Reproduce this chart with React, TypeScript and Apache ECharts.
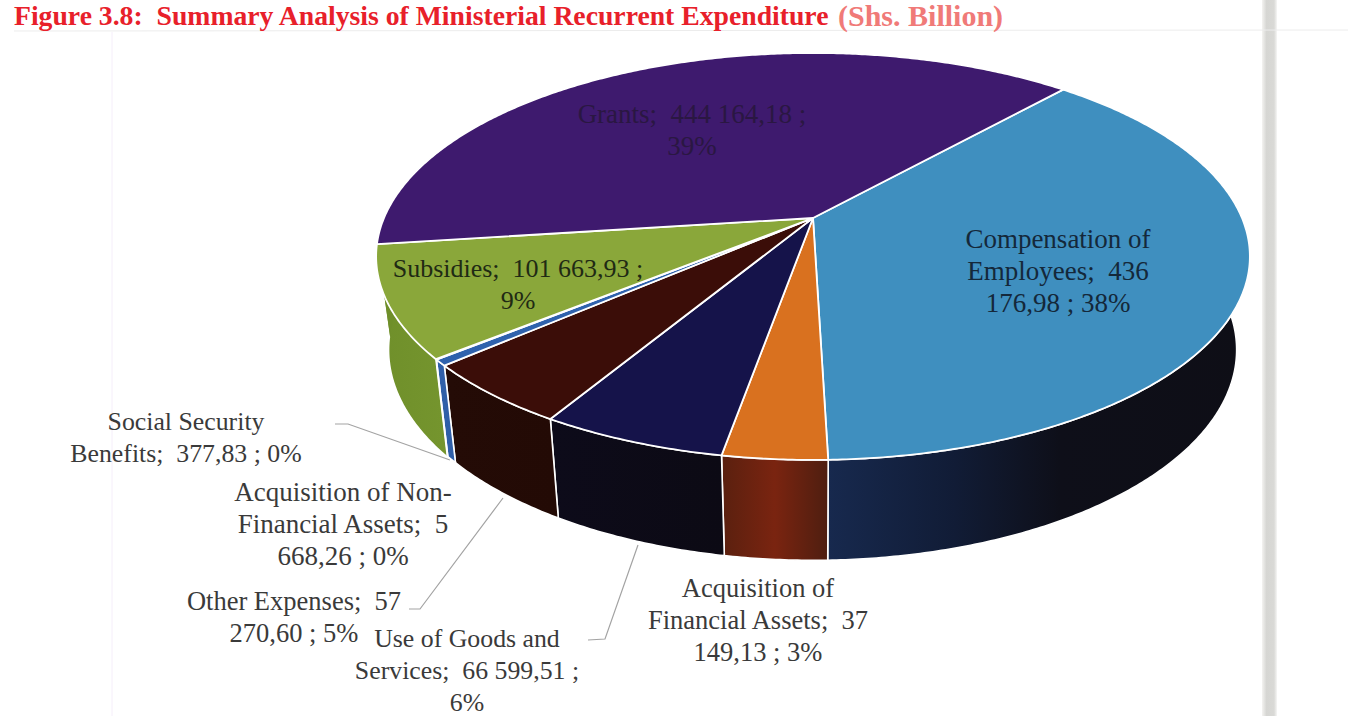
import React, { useEffect, useRef } from "react";
import * as echarts from "echarts";

const categories = [
  "Compensation of Employees",
  "Acquisition of Financial Assets",
  "Use of Goods and Services",
  "Other Expenses",
  "Acquisition of Non-Financial Assets",
  "Social Security Benefits",
  "Subsidies",
  "Grants",
];
const values = [436176.98, 37149.13, 66599.51, 57270.6, 5668.26, 377.83, 101663.93, 444164.18];
const labelTexts = [
  ["Compensation of", "Employees;  436", "176,98 ; 38%"],
  ["Acquisition of", "Financial Assets;  37", "149,13 ; 3%"],
  ["Use of Goods and", "Services;  66 599,51 ;", "6%"],
  ["Other Expenses;  57", "270,60 ; 5%"],
  ["Acquisition of Non-", "Financial Assets;  5", "668,26 ; 0%"],
  ["Social Security", "Benefits;  377,83 ; 0%"],
  ["Subsidies;  101 663,93 ;", "9%"],
  ["Grants;  444 164,18 ;", "39%"],
];
const titleMain = "Figure 3.8:  Summary Analysis of Ministerial Recurrent Expenditure";
const titleUnit = "(Shs. Billion)";

const topColors = ["#3f8fbf", "#d9711f", "#15134a", "#3b0d08", "#2f62ad", "#e6e08a", "#8aa73a", "#3e1a6e"];
const wallStops: [number, string][][] = [
  [[0, "#17294e"], [0.3, "#111c36"], [0.55, "#0e0f19"], [1, "#0e0e16"]],
  [[0, "#5a200f"], [0.5, "#7a2410"], [1, "#4e1e10"]],
  [[0, "#0d0b1a"], [1, "#0c0a14"]],
  [[0, "#240b06"], [1, "#230a05"]],
  [[0, "#2f5fa8"], [1, "#2f5fa8"]],
  [[0, "#e6e08a"], [1, "#e6e08a"]],
  [[0, "#6f8f2a"], [1, "#75952e"]],
  [[0, "#6f8f2a"], [1, "#6f8f2a"]],
];
const wallStrokes = ["#ffffff", "#ffffff", "#ffffff", "#ffffff", "#ffffff", "#ffffff", "none", "none"];

const labelLayout = [
  { x: 1058, y: 239, size: 27, fill: "#14283a" },
  { x: 758, y: 588, size: 26.5, fill: "#3a3a3a" },
  { x: 467, y: 638, size: 25.8, fill: "#3a3a3a" },
  { x: 294, y: 601, size: 26.5, fill: "#3a3a3a" },
  { x: 343, y: 492, size: 27, fill: "#3a3a3a" },
  { x: 186, y: 421, size: 25.8, fill: "#3a3a3a" },
  { x: 518, y: 268, size: 26, fill: "#1f2a14" },
  { x: 692, y: 114, size: 27, fill: "#2a1742" },
];
const leaders: number[][][] = [
  [[335, 424], [348, 424], [450, 460]],
  [[409, 609], [420, 609], [503, 498]],
  [[588, 640], [605, 639], [638, 545]],
];

const START_DEG = 41.7;
const K = -0.189;
const TOP = { cx: 813, cy: 218, a: 429, b: 196.2 };
const BOTTOM = { cx: 813, cy: 310, a: 416, b: 203 };
const TOTAL = values.reduce((s, v) => s + v, 0);

function project(p: { cx: number; cy: number; a: number; b: number }, deg: number): number[] {
  const t = (deg * Math.PI) / 180;
  const u = Math.sin(t);
  const v = -Math.cos(t);
  const d = 1 + K * v;
  return [p.cx + (p.a * u) / d, p.cy + (p.b * v) / d];
}
function sweep(index: number): number[] {
  let before = 0;
  for (let i = 0; i < index; i++) before += values[i];
  return [START_DEG + (before / TOTAL) * 360, START_DEG + ((before + values[index]) / TOTAL) * 360];
}
function arc(p: typeof TOP, a0: number, a1: number): number[][] {
  const n = Math.max(2, Math.ceil(Math.abs(a1 - a0) / 0.5));
  const out: number[][] = [];
  for (let i = 0; i <= n; i++) out.push(project(p, a0 + ((a1 - a0) * i) / n));
  return out;
}

export default function App() {
  const ref = useRef<HTMLDivElement>(null);
  useEffect(() => {
    document.body.style.margin = "0";
    const chart = echarts.init(ref.current!, undefined, { renderer: "svg" });
    const font = '"Liberation Serif", serif';
    const graphics: any[] = [
      { type: "rect", z: 0, shape: { x: 1262, y: 0, width: 15, height: 716 },
        style: { fill: new echarts.graphic.LinearGradient(0, 0, 1, 0, [
          { offset: 0, color: "#f4f3f1" }, { offset: 0.3, color: "#d6d6d3" }, { offset: 0.8, color: "#d9d9d6" }, { offset: 1, color: "#f6f6f5" } ]) } },
      { type: "line", z: 0, shape: { x1: 14, y1: 31, x2: 1348, y2: 30 }, style: { stroke: "#ececec", lineWidth: 1 } },
      { type: "line", z: 0, shape: { x1: 112, y1: 32, x2: 112, y2: 716 }, style: { stroke: "#f5eefa", lineWidth: 1 } },
      { type: "text", z: 5, style: { x: 14, y: 1, text: titleMain, font: `bold 27.7px ${font}`, fill: "#e8202a", verticalAlign: "top" } },
      { type: "text", z: 5, style: { x: 838, y: 0, text: titleUnit, font: `bold 30px ${font}`, fill: "#f07a78", verticalAlign: "top" } },
    ];
    leaders.forEach((pts) => graphics.push({ type: "polyline", z: 1, shape: { points: pts }, style: { stroke: "#a3a3a3", lineWidth: 1.2, fill: "none" } }));
    labelTexts.forEach((lines, n) => {
      const l = labelLayout[n];
      lines.forEach((t, i) =>
        graphics.push({ type: "text", z: 20, style: { x: l.x, y: l.y + i * 32, text: t, font: `${l.size}px ${font}`, fill: l.fill, align: "center", verticalAlign: "middle" } })
      );
    });
    const data = values.map((v, i) => ({ name: categories[i], value: v }));
    chart.setOption({
      animation: false,
      backgroundColor: "#ffffff",
      graphic: graphics,
      series: [
        {
          type: "custom", coordinateSystem: "none", z: 2, silent: true, data,
          renderItem: (params: any) => {
            const i = params.dataIndex;
            const [a0, a1] = sweep(i);
            const points = [...arc(TOP, a0, a1), ...arc(BOTTOM, a1, a0)];
            return {
              type: "polygon", z2: wallStrokes[i] === "none" ? 1 : 10, shape: { points },
              style: {
                fill: new echarts.graphic.LinearGradient(0, 0, 1, 0, wallStops[i].map(([offset, color]) => ({ offset, color }))),
                stroke: wallStrokes[i], lineWidth: 1.6,
              },
            };
          },
        },
        {
          type: "custom", coordinateSystem: "none", z: 3, silent: true, data,
          renderItem: (params: any) => {
            const i = params.dataIndex;
            const [a0, a1] = sweep(i);
            const points = [[TOP.cx, TOP.cy], ...arc(TOP, a0, a1)];
            return { type: "polygon", shape: { points }, style: { fill: topColors[i], stroke: "#ffffff", lineWidth: 1.8, lineJoin: "round" } };
          },
        },
      ],
    });
    return () => chart.dispose();
  }, []);
  return <div ref={ref} style={{ position: "absolute", left: 0, top: 0, width: 1348, height: 716 }} />;
}
